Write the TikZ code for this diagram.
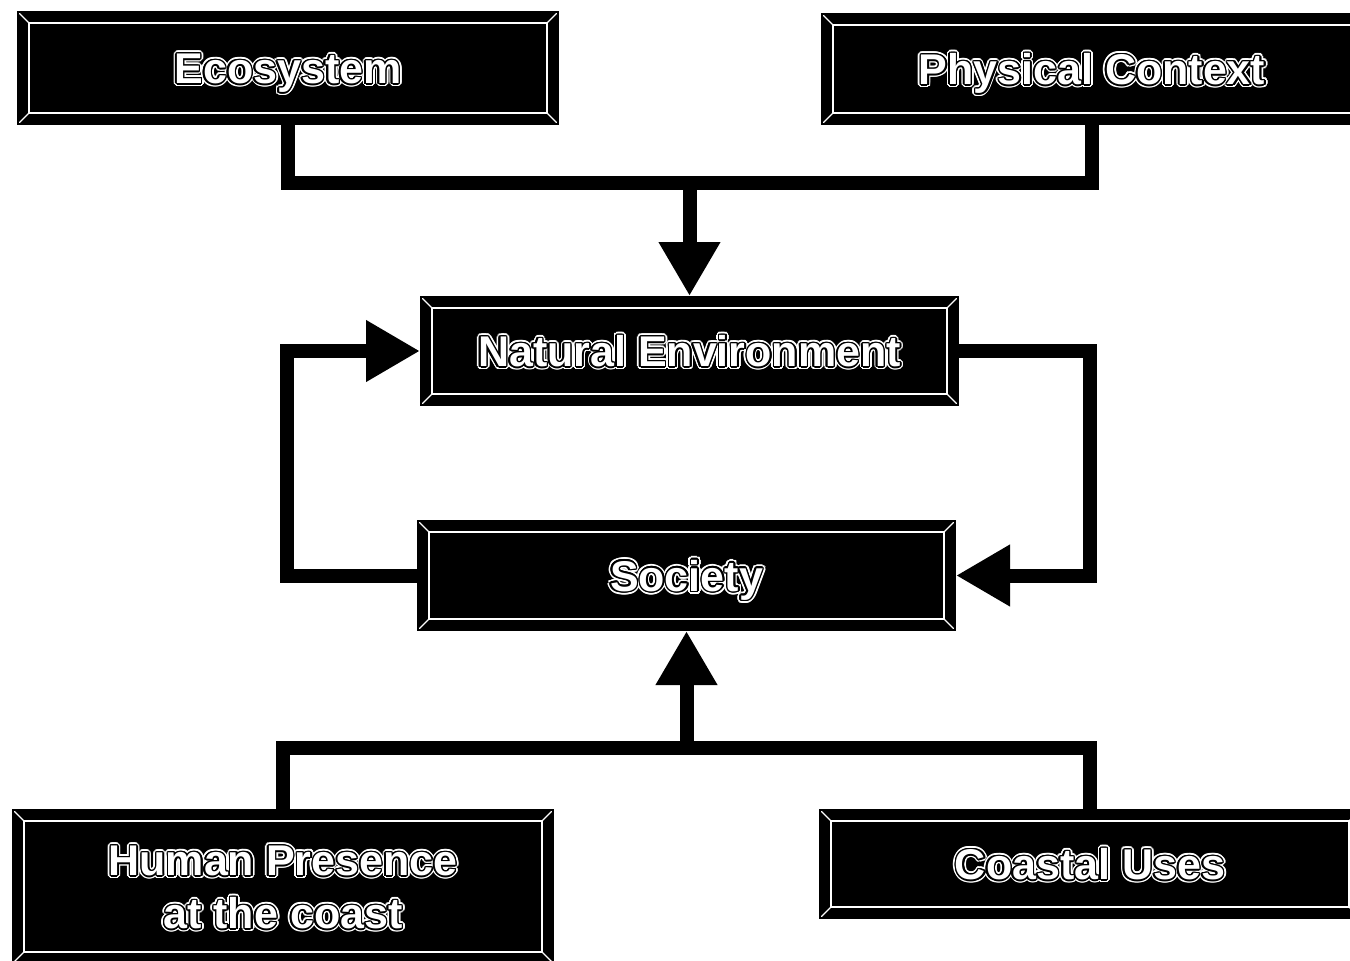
\documentclass[tikz,border=0pt]{standalone}
\usepackage{fontspec}
\setmainfont{Liberation Sans}
\usetikzlibrary{arrows.meta}

% outlined lettering: white halo, thin black contour, white letters
\newsavebox\lblbox
\newcommand\ringcopy[2]{%
  \foreach \a in {0,22.5,...,337.5}{%
    \pgfmathsetlengthmacro\dx{#2*cos(\a)}%
    \pgfmathsetlengthmacro\dy{#2*sin(\a)}%
    \rlap{\kern\dx\raise\dy\hbox{\color{#1}\usebox\lblbox}}}}
\newcommand\haloed[1]{%
  \setbox\lblbox\hbox{\begin{tabular}{@{}c@{}}#1\end{tabular}}%
  % sit the lettering a little lower in its box
  \ht\lblbox=\dimexpr\ht\lblbox+5pt\relax
  \dp\lblbox=\dimexpr\dp\lblbox-5pt\relax
  \ringcopy{white}{3.2pt}\ringcopy{black}{1.5pt}%
  {\color{white}\usebox\lblbox}}

\tikzset{
  bevelbox/.style={rectangle, fill=black, draw=black, line width=2pt,
    inner sep=0pt, minimum width=540pt, minimum height=110pt,
    font=\fontsize{43}{53}\selectfont\bfseries,
    path picture={
      \draw[white, line width=1.3pt]
        ([shift={(11pt,-11pt)}]path picture bounding box.north west) rectangle
        ([shift={(-11pt,11pt)}]path picture bounding box.south east);
      \draw[white, line width=1.3pt]
        (path picture bounding box.north west) -- ++(11pt,-11pt)
        (path picture bounding box.north east) -- ++(-11pt,-11pt)
        (path picture bounding box.south west) -- ++(11pt,11pt)
        (path picture bounding box.south east) -- ++(-11pt,11pt);
    }},
  conn/.style={draw=black, line width=14pt, line join=miter},
  tip/.style={-{Triangle[width=58pt,length=54pt]}}
}

\begin{document}
\begin{tikzpicture}[x=1pt, y=-1pt]
  \useasboundingbox (0,0) rectangle (1350,961);
  \clip (0,0) rectangle (1350,961);

  % boxes
  \node[bevelbox, minimum height=112pt] (eco)  at (288,68)    {\haloed{Ecosystem}};
  \node[bevelbox] (phys) at (1092,69)   {\haloed{Physical Context}};
  \node[bevelbox, minimum width=537pt, minimum height=108pt] (nat) at (689.5,351) {\haloed{Natural Environment}};
  \node[bevelbox, minimum width=537pt, minimum height=109pt] (soc) at (686.5,575.5) {\haloed{Society}};
  \node[bevelbox, minimum height=153pt] (hum) at (283,886.5) {\haloed{Human Presence\\at the coast}};
  \node[bevelbox, minimum height=108pt] (coast) at (1090,864) {\haloed{Coastal Uses}};

  % junction and turning points
  \coordinate (topj) at (689.5,183);
  \coordinate (botj) at (686.5,748);
  \coordinate (lx) at (287,0);
  \coordinate (rx) at (1090,0);

  % upper merge into the natural environment
  \draw[conn] (eco.south) -- (eco.south |- topj) -- (phys.south |- topj) -- (phys.south);
  \draw[conn, tip] (topj) -- (nat.north);

  % feedback loop between society and environment
  \draw[conn, tip] (soc.west) -- (soc.west -| lx) -- (nat.west -| lx) -- (nat.west);
  \draw[conn, tip] (nat.east) -- (nat.east -| rx) -- (soc.east -| rx) -- (soc.east);

  % lower merge into society
  \draw[conn] (hum.north) -- (hum.north |- botj) -- (coast.north |- botj) -- (coast.north);
  \draw[conn, tip] (botj) -- (soc.south);
\end{tikzpicture}
\end{document}
